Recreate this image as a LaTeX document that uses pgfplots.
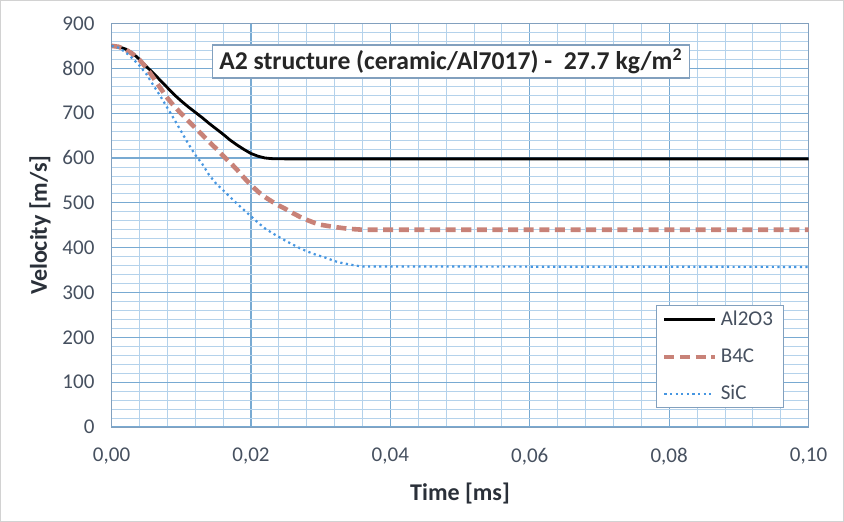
\documentclass[border=0pt]{standalone}
\usepackage{pgfplots}
\pgfplotsset{compat=1.18}
\usepackage{fontspec}
\setmainfont{Carlito}
\definecolor{gridmaj}{RGB}{120,170,210}
\definecolor{gridmin}{RGB}{180,210,235}
\definecolor{axcol}{RGB}{130,160,190}
\definecolor{tickcol}{RGB}{70,80,95}
\definecolor{bfc}{RGB}{200,130,120}
\definecolor{sicc}{RGB}{70,150,225}
\begin{document}
\begin{tikzpicture}[x=1pt,y=1pt]
\draw[gray!35,use as bounding box] (0.5,0.5) rectangle (421.5,260.5);
\begin{axis}[
  at={(56pt,47.5pt)}, anchor=south west,
  scale only axis, width=348pt, height=201.5pt,
  xmin=0, xmax=0.1, ymin=0, ymax=900,
  xtick={0,0.02,...,0.1}, ytick={0,100,...,900},
  minor x tick num=4, minor y tick num=4,
  grid=both,
  major grid style={gridmaj, line width=0.6pt},
  minor grid style={gridmin, line width=0.4pt},
  axis line style={axcol},
  tick style={draw=none},
  xticklabel style={/pgf/number format/fixed, /pgf/number format/fixed zerofill, /pgf/number format/precision=2, /pgf/number format/use comma, yshift=-7pt},
  yticklabel style={xshift=-5pt},
  scaled x ticks=false,
  /pgf/number format/assume math mode=true,
  tick label style={font=\fontsize{10.5}{12}\selectfont, text=tickcol},
  xlabel={\textbf{Time [ms]}}, ylabel={\textbf{Velocity [m/s]}},
  label style={font=\fontsize{12}{14}\selectfont, text=tickcol!60!black},
  xlabel style={yshift=-2pt},
  ylabel style={yshift=-1pt},
  legend style={at={(0.964,0.047)}, anchor=south east, draw=axcol, fill=white, font=\fontsize{10.5}{12}\selectfont, text=tickcol, row sep=6pt, inner xsep=3pt, inner ysep=0.5pt},
  legend cell align=left,
  legend image code/.code={\draw[#1] (0pt,0pt) -- (25pt,0pt);},
]
\addplot[black, line width=1.4pt] coordinates {
(0,850) (0.001,848) (0.002,843) (0.003,834) (0.004,820) (0.005,804) (0.006,789) (0.007,773) (0.008,757) (0.009,741) (0.010,727) (0.011,714) (0.012,702) (0.013,690) (0.014,677) (0.015,665) (0.016,653) (0.017,640) (0.018,629) (0.019,619) (0.020,610) (0.021,604) (0.022,600) (0.023,598.5) (0.025,598) (0.1,598)};
\addlegendentry{Al2O3}
\addplot[bfc, line width=2.3pt, dash pattern=on 5pt off 2.8pt] coordinates {
(0,850) (0.001,848) (0.002,842) (0.003,832) (0.004,819) (0.005,801) (0.006,779) (0.007,756) (0.008,734) (0.009,715) (0.010,699) (0.011,683) (0.012,667) (0.013,652) (0.014,636) (0.015,621) (0.016,605) (0.017,590) (0.018,574) (0.019,556) (0.020,540) (0.021,525) (0.022,513) (0.023,503) (0.024,494) (0.025,486) (0.026,477) (0.027,469) (0.028,462) (0.029,456) (0.030,451) (0.032,446) (0.034,442) (0.036,440) (0.1,440)};
\addlegendentry{B4C}
\addplot[sicc, line width=1.1pt, dash pattern=on 1.1pt off 1.7pt] coordinates {
(0,850) (0.001,846) (0.002,836) (0.003,822) (0.004,806) (0.005,787) (0.006,762) (0.007,738) (0.008,712) (0.009,686) (0.010,659) (0.011,632) (0.012,607) (0.013,587) (0.014,562) (0.015,543) (0.016,528) (0.017,513) (0.018,498) (0.019,484) (0.020,470) (0.021,456) (0.022,443) (0.023,433) (0.024,424) (0.025,415) (0.026,407) (0.027,399) (0.028,392) (0.029,386) (0.030,381) (0.031,376) (0.032,370) (0.033,366) (0.034,363) (0.035,360) (0.036,358) (0.1,357)};
\addlegendentry{SiC}
\node[draw=axcol, fill=white, line width=0.8pt, font=\fontsize{12.8}{15}\selectfont\bfseries, inner xsep=3.5pt, inner ysep=2pt, text=black!85] at (axis cs:0.0487,815) {A2 structure (ceramic/Al7017) -\ \ 27.7 kg/m\textsuperscript{2}};
\end{axis}
\end{tikzpicture}
\end{document}
